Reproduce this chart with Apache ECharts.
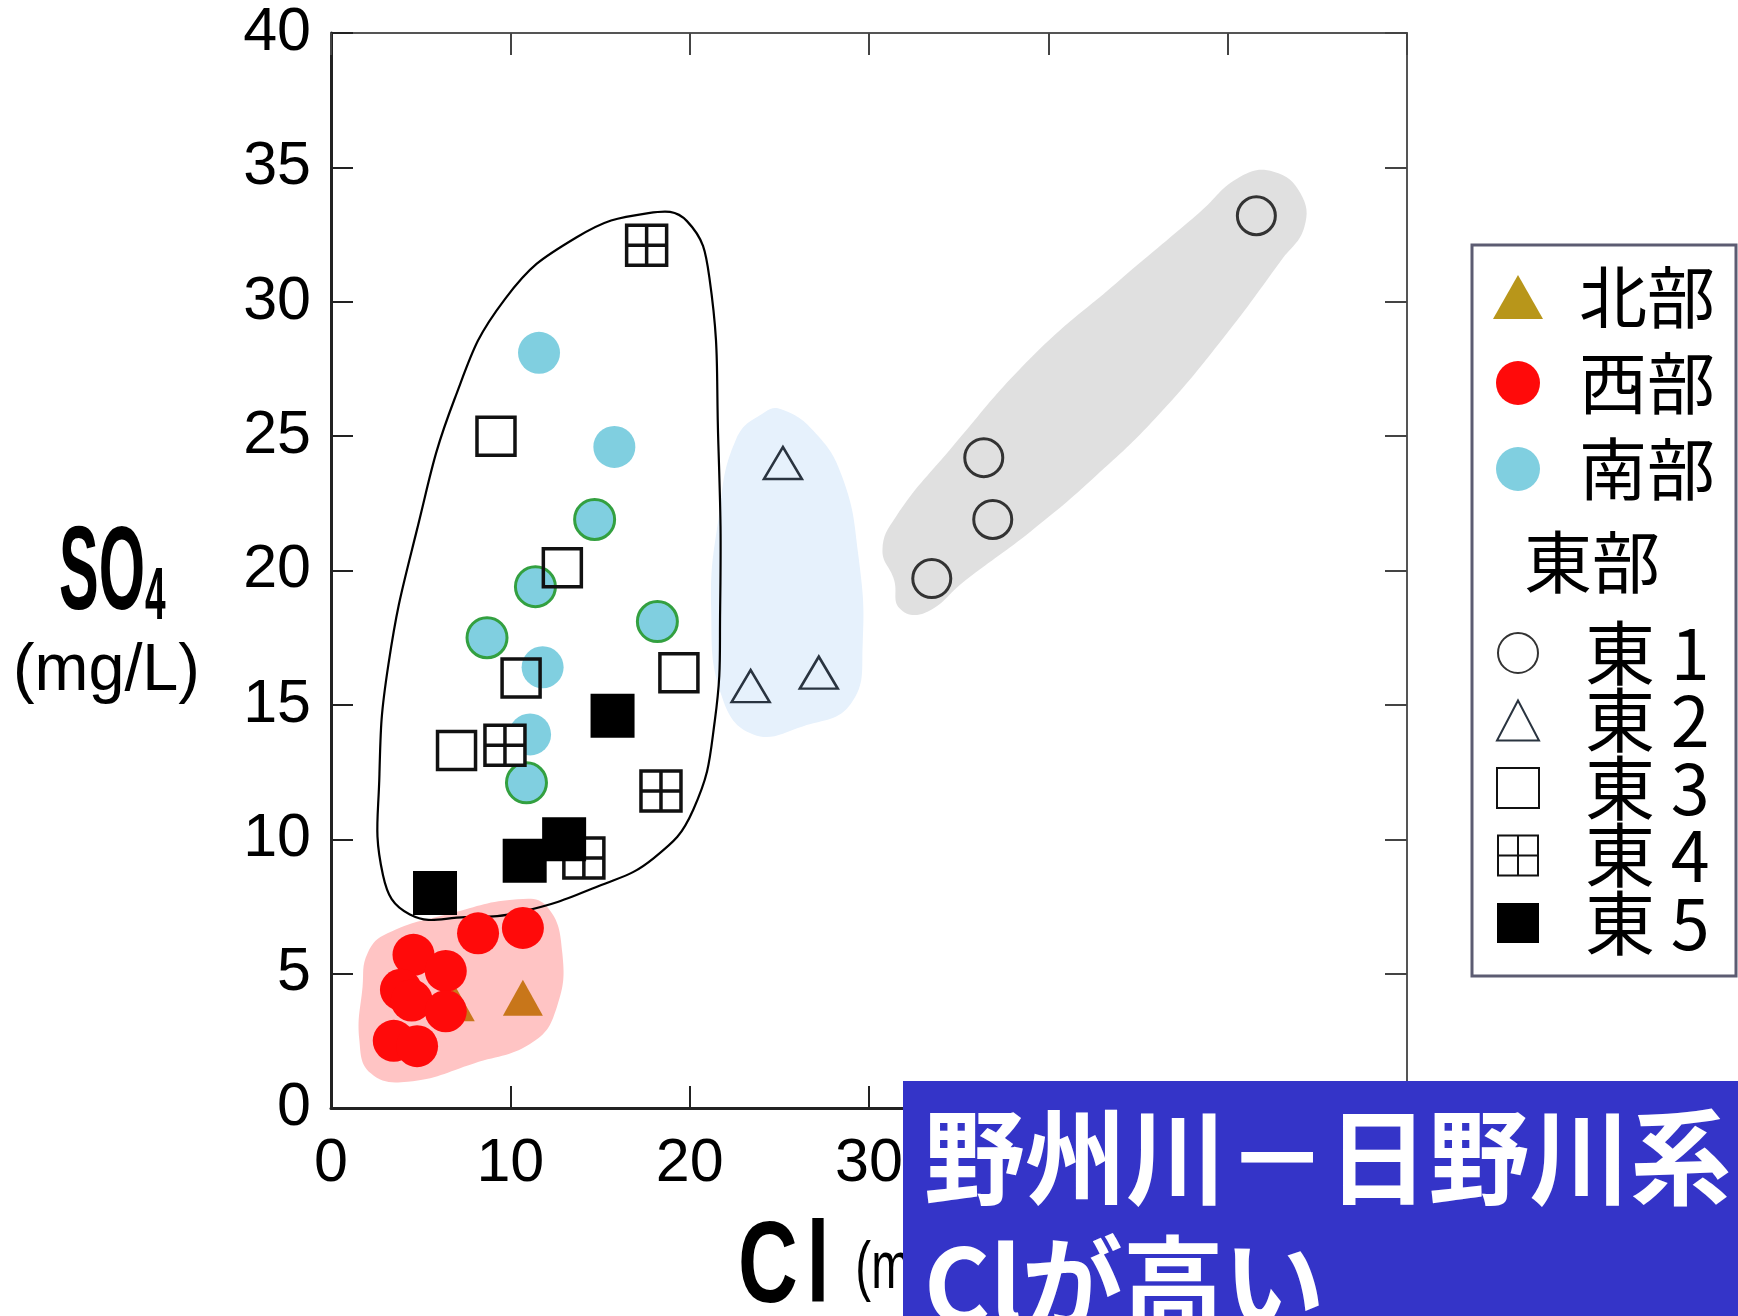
<!DOCTYPE html>
<html><head><meta charset="utf-8">
<script src="https://cdn.jsdelivr.net/npm/echarts@6/dist/echarts.min.js"></script>
<style>html,body{margin:0;padding:0;background:#fff}#c{width:1738px;height:1316px}</style>
</head><body><div id="c"></div>
<script>
// ---- axis ranges / ticks ----
const xTickValues = [0, 10, 20, 30, 40, 50, 60];
const yTickValues = [0, 5, 10, 15, 20, 25, 30, 35, 40];

// ---- series values [Cl, SO4] (mg/L) ----
const north = [[6.9, 3.9], [10.7, 4.1]];                         // 北部
const west = [[4.6, 5.7], [6.4, 5.1], [3.9, 4.4], [4.5, 4.0], [6.4, 3.6],
              [3.5, 2.5], [4.8, 2.3], [8.2, 6.5], [10.7, 6.7]];   // 西部
const southA = [[11.6, 28.1], [15.8, 24.6], [11.8, 16.4], [11.1, 13.9]];          // 南部
const southB = [[14.7, 21.9], [11.4, 19.4], [18.2, 18.1], [8.7, 17.5], [10.9, 12.1]]; // 南部
const east1 = [[51.6, 33.2], [36.4, 24.2], [36.9, 21.9], [33.5, 19.7]];
const east2 = [[25.2, 24.0], [23.4, 15.7], [27.2, 16.2]];
const east3 = [[9.2, 25.0], [12.9, 20.1], [10.6, 16.0], [19.4, 16.2], [7.0, 13.3]];
const east4 = [[17.6, 32.1], [9.7, 13.5], [18.4, 11.8], [14.1, 9.3]];
const east5 = [[15.7, 14.6], [13.0, 10.0], [10.8, 9.2], [5.8, 8.0]];

// ---- group outlines (data coordinates) ----
const westRegion = [[1.76, 4.51], [2.04, 5.76], [3.15, 6.5], [6.67, 7.24], [10.4, 7.77], [12.05, 7.49],
  [12.9, 5.76], [12.6, 3.77], [11.3, 2.47], [7.97, 1.66], [4.27, 0.98], [2.22, 1.29], [1.58, 2.53]];
const east2Region = [[24.2, 25.9], [22.6, 24.9], [21.6, 21.9], [21.2, 18.6], [21.8, 15.3], [23.55, 13.9],
  [26.3, 14.2], [29.0, 15.05], [29.65, 17.3], [29.4, 20.6], [28.5, 23.5], [26.9, 25.2], [25.1, 26.0]];
const east1Region = [[52.56, 34.84], [54.06, 34.04], [54.28, 32.79], [53.0, 31.55], [49.55, 28.47],
  [46.05, 25.72], [42.6, 23.49], [39.1, 21.5], [35.4, 19.65], [33.1, 18.42], [31.7, 18.6], [31.4, 19.65],
  [30.75, 20.76], [31.5, 22.0], [34.5, 24.48], [39.1, 27.96], [43.8, 30.7], [48.4, 33.3], [50.7, 34.65]];
const mixRegion = [[2.9, 8.66], [2.7, 12.4], [3.2, 16.5], [4.75, 21.4], [6.9, 26.4], [9.7, 30.1],
  [13.7, 32.4], [17.7, 33.3], [19.85, 33.0], [21.1, 30.9], [21.6, 24.7], [21.7, 18.6], [21.4, 14.4],
  [20.2, 11.1], [18.0, 9.3], [14.9, 8.25], [10.6, 7.3], [7.5, 7.1], [4.4, 7.2]];

const regions = [westRegion, east2Region, east1Region, mixRegion];
const regionStyles = [
  { fill: '#FFC4C4', stroke: 'none' },
  { fill: '#E6F1FC', stroke: 'none' },
  { fill: '#E0E0E0', stroke: 'none' },
  { fill: 'none', stroke: '#000', lineWidth: 2.2 }
];

const tickFont = "'Liberation Sans Narrow','Liberation Sans',Arial,sans-serif";
const latinFont = "'Liberation Sans',Arial,sans-serif";
const jpFont = "'Noto Sans CJK JP','Noto Sans CJK SC',sans-serif";
const gridSym = 'path://M0,0H10V10H0Z M5,0V10 M0,5H10';

const chart = echarts.init(document.getElementById('c'), null, { renderer: 'canvas' });

function axisBase(pos, main, isX) {
  return {
    type: 'value', position: pos,
    min: 0, max: isX ? xTickValues[xTickValues.length - 1] : yTickValues[yTickValues.length - 1],
    interval: isX ? 10 : 5,
    axisLine: { show: true, onZero: false, lineStyle: { color: main ? '#222' : '#555', width: main ? 3 : 2 } },
    axisTick: { show: true, inside: true, length: 22, lineStyle: { color: main ? '#222' : '#444', width: 2 } },
    splitLine: { show: false },
    axisLabel: main ? {
      show: true, fontSize: 61, color: '#000', fontFamily: tickFont,
      margin: isX ? 26 : 20, showMinLabel: true, showMaxLabel: true
    } : { show: false }
  };
}

const option = {
  animation: false,
  backgroundColor: '#fff',
  grid: { left: 331, right: 331, top: 33, bottom: 208, containLabel: false },
  xAxis: [axisBase('bottom', true, true), axisBase('top', false, true)],
  yAxis: [axisBase('left', true, false), axisBase('right', false, false)],
  legend: [
    {
      orient: 'vertical', left: 1493, top: 263, padding: 0,
      itemWidth: 50, itemHeight: 44, itemGap: 18, selectedMode: false,
      textStyle: { fontSize: 68, lineHeight: 68, fontFamily: jpFont, color: '#000', padding: [0, 0, 0, 31] },
      data: [{ name: '北部', itemStyle: { color: '#B8961A' } }, '西部', '南部']
    },
    {
      orient: 'vertical', left: 1496, top: 618, padding: 0,
      itemWidth: 42, itemHeight: 40, itemGap: -2.5, selectedMode: false,
      textStyle: { fontSize: 70, lineHeight: 66, fontFamily: jpFont, color: '#000', padding: [0, 0, 0, 41] },
      data: ['東 1', '東 2', '東 3', '東 4', '東 5']
    }
  ],
  series: [
    {
      type: 'custom', name: 'groups', coordinateSystem: 'cartesian2d', silent: true, z: 1,
      data: regions.map((r, i) => [i, 0]),
      renderItem: function (params, api) {
        const pts = regions[params.dataIndex].map(p => api.coord(p));
        return { type: 'polygon', shape: { points: pts, smooth: 0.45 }, style: regionStyles[params.dataIndex] };
      }
    },
    { type: 'scatter', name: '北部', data: north, symbol: 'triangle', symbolSize: [40, 36],
      itemStyle: { color: '#C8761A', opacity: 1 } },
    { type: 'scatter', name: '西部', data: west, symbol: 'circle', symbolSize: 42,
      itemStyle: { color: '#FF0A0A', opacity: 1 } },
    { type: 'scatter', name: '南部', data: southA, symbol: 'circle', symbolSize: 42,
      itemStyle: { color: '#80CFE0', opacity: 1 } },
    { type: 'scatter', name: '南部', data: southB, symbol: 'circle', symbolSize: 40,
      itemStyle: { color: '#80CFE0', borderColor: '#33A040', borderWidth: 3, opacity: 1 } },
    { type: 'scatter', name: '東 1', data: east1, symbol: 'circle', symbolSize: 38,
      itemStyle: { color: 'rgba(0,0,0,0)', borderColor: '#333', borderWidth: 3, opacity: 1 } },
    { type: 'scatter', name: '東 2', data: east2, symbol: 'triangle', symbolSize: [38, 32],
      itemStyle: { color: 'rgba(0,0,0,0)', borderColor: '#2a3440', borderWidth: 2.5, opacity: 1 } },
    { type: 'scatter', name: '東 3', data: east3, symbol: 'rect', symbolSize: 38,
      itemStyle: { color: 'rgba(0,0,0,0)', borderColor: '#111', borderWidth: 3.5, opacity: 1 } },
    { type: 'scatter', name: '東 4', data: east4, symbol: gridSym, symbolSize: 40, symbolKeepAspect: true,
      itemStyle: { color: '#fff', borderColor: '#111', borderWidth: 3.5, opacity: 1 } },
    { type: 'scatter', name: '東 5', data: east5, symbol: 'rect', symbolSize: 44,
      itemStyle: { color: '#000', opacity: 1 } }
  ],
  graphic: [
    { type: 'rect', z: 0, shape: { x: 1472, y: 245, width: 264, height: 731 },
      style: { fill: '#fff', stroke: '#5c5c72', lineWidth: 3 } },
    { type: 'text', z: 10, x: 1524, y: 562,
      style: { text: '東部', fontSize: 68, fontFamily: jpFont, fill: '#000', align: 'left', verticalAlign: 'middle' } },
    { type: 'text', z: 10, x: 59, y: 576, scaleX: 0.5,
      style: { text: '{a|SO}{b|4}', align: 'left', verticalAlign: 'middle', fill: '#000',
        rich: {
          a: { fontSize: 119, lineHeight: 119, fontWeight: 'bold', fontFamily: latinFont, verticalAlign: 'middle' },
          b: { fontSize: 74, lineHeight: 88, fontWeight: 'bold', fontFamily: latinFont, verticalAlign: 'bottom' }
        } } },
    { type: 'text', z: 10, x: 13, y: 672, scaleX: 0.98,
      style: { text: '(mg/L)', fontSize: 66, fontFamily: latinFont, fill: '#000',
        align: 'left', verticalAlign: 'middle' } },
    { type: 'text', z: 10, x: 738, y: 1270, scaleX: 0.72,
      style: { text: '{a|C}{c|l}{b|(mg/L)}', align: 'left', verticalAlign: 'middle', fill: '#000',
        rich: {
          a: { fontSize: 115, lineHeight: 115, fontWeight: 'bold', fontFamily: latinFont, verticalAlign: 'middle' },
          c: { fontSize: 115, lineHeight: 115, fontWeight: 'bold', fontFamily: latinFont, verticalAlign: 'middle', padding: [0, 0, 0, 12] },
          b: { fontSize: 66, lineHeight: 80, fontFamily: latinFont, verticalAlign: 'middle', padding: [0, 0, 0, 36] }
        } } },
    { type: 'rect', z: 100, shape: { x: 903, y: 1081, width: 840, height: 240 },
      style: { fill: '#3434C8' } },
    { type: 'text', z: 101, x: 924, y: 1094, scaleX: 0.97,
      style: { text: '野州川－日野川系\nClが高い', fontSize: 104, lineHeight: 127, fontWeight: 'bold',
        fontFamily: jpFont, fill: '#fff', align: 'left', verticalAlign: 'top' } }
  ]
};
chart.setOption(option);
</script>
</body></html>
